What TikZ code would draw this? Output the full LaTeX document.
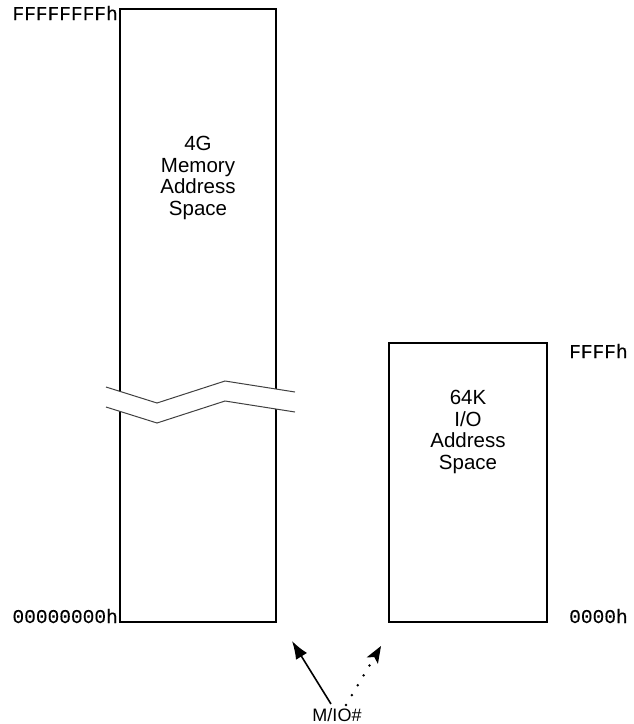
\documentclass[tikz,border=0pt]{standalone}
\usepackage{fontspec}
\setmainfont{Liberation Sans}
\newfontfamily\monof[FakeBold=0.2]{Liberation Mono}
\usetikzlibrary{arrows.meta}
\begin{document}
\begin{tikzpicture}[x=1pt,y=-1pt,
  boxline/.style={draw=black,line width=1.3pt},
  spacetext/.style={align=center,font=\fontsize{20.5}{21.5}\selectfont,inner sep=0pt},
  addr/.style={font=\monof\fontsize{19.5}{20}\selectfont,inner sep=0pt},
  breakline/.style={draw=black!75,line width=1pt},
  arr/.style={line width=1.6pt,-{Latex[length=18pt,width=13pt]}}]
\useasboundingbox (0,0) rectangle (634,724);
% memory box
\draw[boxline] (120,9) rectangle (276,622);
\coordinate (ul1) at (106,387); \coordinate (ul2) at (157,403);
\coordinate (ul3) at (225,381); \coordinate (ul4) at (295,392);
\coordinate (ll1) at (106,407); \coordinate (ll2) at (157,423);
\coordinate (ll3) at (225,401); \coordinate (ll4) at (295,412);
\fill[white] (ul1) -- (ul2) -- (ul3) -- (ul4) -- (ll4) -- (ll3) -- (ll2) -- (ll1) -- cycle;
\draw[breakline] (ul1) -- (ul2) -- (ul3) -- (ul4);
\draw[breakline] (ll1) -- (ll2) -- (ll3) -- (ll4);
\node[spacetext] (mem) at (198,178) {4G\\Memory\\Address\\Space};
% io box
\draw[boxline] (389,343) rectangle (547,622);
\node[spacetext] (io) at (468,432) {64K\\I/O\\Address\\Space};
% address labels
\node[addr,anchor=base east] (memtop) at (118,20) {FFFFFFFFh};
\node[addr,anchor=base east] (membot) at (118,623) {00000000h};
\node[addr,anchor=base west] (iotop) at (569,358) {FFFFh};
\node[addr,anchor=base west] (iobot) at (569,623) {0000h};
% M/IO#
\node[font=\fontsize{18}{19}\selectfont,inner sep=0pt,anchor=base] (mio) at (337,721) {M/IO\#};
\coordinate (memtip) at (292,641);
\coordinate (iotip) at (381,646);
\coordinate (s1) at (331,704);
\coordinate (s2) at (346,705);
\draw[arr] (s1) -- (memtip);
\draw[line width=2.8pt,dash pattern=on 0pt off 11.5pt,line cap=round,
  -{Stealth[length=17pt,width=13pt,inset=4pt,line width=0pt]}] (s2) -- (iotip);
\end{tikzpicture}
\end{document}
